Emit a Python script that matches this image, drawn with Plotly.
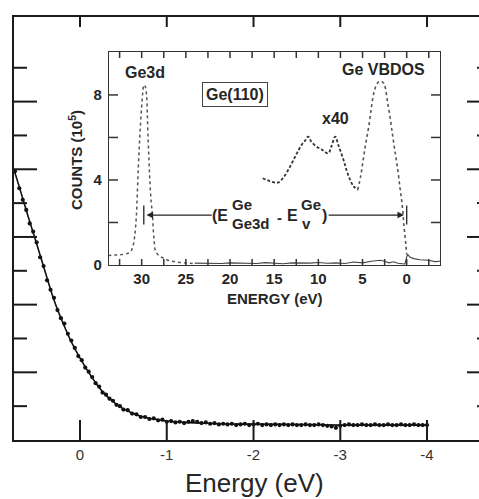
import plotly.graph_objects as go

# ---------------- data: main plot ----------------
main_fit_E = [0.76, 0.70, 0.60, 0.50, 0.40, 0.30, 0.20, 0.10, 0.00, -0.10, -0.20, -0.30, -0.40,
              -0.50, -0.60, -0.70, -0.80, -0.90, -1.00, -1.20, -1.40, -1.60, -1.80, -2.00,
              -2.50, -3.00, -3.50, -4.00]
main_fit_y = [3.99, 3.74, 3.31, 2.90, 2.48, 2.07, 1.74, 1.45, 1.21, 1.00, 0.81, 0.66, 0.55,
              0.46, 0.40, 0.35, 0.32, 0.30, 0.28, 0.26, 0.25, 0.24, 0.235, 0.235,
              0.23, 0.22, 0.22, 0.22]

main_pts_E = [0.75, 0.70, 0.66, 0.62, 0.58, 0.54, 0.50, 0.46, 0.42, 0.38, 0.34, 0.30, 0.26, 0.22,
              0.18, 0.14, 0.10, 0.06, 0.02, -0.02, -0.06, -0.10, -0.14, -0.18, -0.22, -0.26,
              -0.30, -0.34, -0.38, -0.42, -0.46, -0.50, -0.55, -0.60, -0.65, -0.70, -0.75,
              -0.80, -0.85, -0.90, -0.95, -1.00, -1.05, -1.10, -1.15, -1.20, -1.25, -1.30,
              -1.35, -1.40, -1.45, -1.50, -1.55, -1.60, -1.65, -1.70, -1.75, -1.80, -1.85,
              -1.90, -1.95, -2.00, -2.05, -2.10, -2.15, -2.20, -2.25, -2.30, -2.35, -2.40,
              -2.45, -2.50, -2.55, -2.60, -2.65, -2.70, -2.75, -2.80, -2.85, -2.90, -2.95,
              -3.00, -3.05, -3.10, -3.15, -3.20, -3.25, -3.30, -3.35, -3.40, -3.45, -3.50,
              -3.55, -3.60, -3.65, -3.70, -3.75, -3.80, -3.85, -3.90, -3.95, -4.00]
main_pts_y = [3.97, 3.72, 3.55, 3.40, 3.20, 3.08, 2.92, 2.70, 2.57, 2.36, 2.22, 2.10, 1.92, 1.80,
              1.72, 1.57, 1.47, 1.36, 1.24, 1.18, 1.07, 1.01, 0.93, 0.84, 0.79, 0.70,
              0.67, 0.61, 0.58, 0.52, 0.50, 0.45, 0.44, 0.39, 0.38, 0.34, 0.34,
              0.31, 0.32, 0.29, 0.30, 0.27, 0.28, 0.26, 0.27, 0.25, 0.27, 0.28,
              0.27, 0.25, 0.26, 0.24, 0.25, 0.23, 0.24, 0.23, 0.24, 0.22, 0.23,
              0.24, 0.22, 0.23, 0.24, 0.22, 0.23, 0.22, 0.23, 0.22, 0.23, 0.22,
              0.23, 0.22, 0.22, 0.23, 0.22, 0.22, 0.23, 0.22, 0.21, 0.20, 0.18,
              0.21, 0.22, 0.23, 0.22, 0.22, 0.23, 0.22, 0.22, 0.23, 0.22, 0.22,
              0.23, 0.22, 0.22, 0.23, 0.22, 0.22, 0.23, 0.22, 0.22, 0.22]

main_xticks = [0, -1, -2, -3, -4]
main_xlabels = ["0", "-1", "-2", "-3", "-4"]
main_y_major = [1, 2, 3, 4, 5]
main_y_minor = [0.5, 1.5, 2.5, 3.5, 4.5, 5.5]

# ---------------- data: inset ----------------
ge3d_E = [33.8, 32.9, 32.1, 31.5, 31.2, 31.0, 30.8, 30.6, 30.48, 30.38, 30.28, 30.18, 30.03, 29.88,
          29.75, 29.6, 29.45, 29.36, 29.28, 29.18, 29.08, 28.93, 28.78, 28.68, 28.58, 28.48,
          28.28, 27.98, 27.58, 27.18, 26.68, 25.9, 24.9, 23.9]
ge3d_y = [0.45, 0.47, 0.5, 0.56, 0.66, 0.86, 1.33, 2.3, 3.5, 4.6, 5.5, 6.3, 7.3, 8.1,
          8.47, 8.4, 8.0, 7.1, 6.0, 5.0, 4.0, 3.0, 2.35, 1.6, 1.1, 0.72,
          0.55, 0.42, 0.33, 0.25, 0.19, 0.13, 0.09, 0.07]

base_E = [24.0, 23.0, 22.0, 21.0, 20.0, 19.0, 18.0, 17.0, 16.0, 15.0, 14.0, 13.0, 12.0, 11.0,
          10.0, 9.0, 8.0, 7.0, 6.0, 5.0, 4.0, 3.0, 2.5, 2.0, 1.5, 1.0, 0.5, 0.2, 0.05,
          -0.1, -0.4, -0.8, -1.5, -2.5, -3.2, -3.8]
base_y = [0.09, 0.08, 0.1, 0.07, 0.1, 0.08, 0.09, 0.07, 0.11, 0.08, 0.06, 0.1, 0.08, 0.09,
          0.12, 0.08, 0.1, 0.07, 0.14, 0.1, 0.18, 0.22, 0.18, 0.1, 0.15, 0.08, 0.06, 0.05, 0.3,
          0.5, 0.36, 0.3, 0.25, 0.22, 0.16, 0.18]

vb40_E = [16.3, 15.5, 14.6, 13.9, 13.2, 12.5, 11.9, 11.5, 11.15, 10.8, 10.2, 9.5, 8.9, 8.5,
          8.1, 7.7, 7.15, 6.8, 6.4, 6.0, 5.55, 5.2, 4.87, 4.6, 4.3, 4.0, 3.73, 3.45, 3.16,
          2.9, 2.6, 2.4, 2.2, 1.9, 1.63, 1.35, 1.06, 0.75, 0.49, 0.3, 0.11, 0.0]
vb40_y = [4.08, 3.95, 3.87, 4.15, 4.63, 5.2, 5.65, 5.85, 6.04, 5.8, 5.57, 5.4, 5.25, 5.6,
          6.04, 5.6, 4.94, 4.45, 4.0, 3.7, 3.53, 4.2, 5.1, 5.8, 6.5, 7.4, 8.08, 8.45, 8.63,
          8.65, 8.55, 8.3, 7.76, 7.0, 6.2, 5.4, 4.63, 3.6, 2.75, 1.8, 1.02, 0.5]

inset_xticks = [32.5, 30, 27.5, 25, 22.5, 20, 17.5, 15, 12.5, 10, 7.5, 5, 2.5, 0, -2.5]
inset_xlabels = ["", "30", "", "25", "", "20", "", "15", "", "10", "", "5", "", "0", ""]
inset_yticks = [0, 2, 4, 6, 8]
inset_ylabels = ["0", "", "4", "", "8"]

gap_E = [29.76, 0.0]      # E(Ge3d) and E(v) markers of the arrow
gap_level = 2.35

# ---------------- layout geometry ----------------
W, H = 479, 499
L, R, T, B = 14, 0, 17, 59
PW, PH = W - L - R, H - T - B

IX0, IX1, IY0, IY1 = 109, 440, 265, 52      # inset box in pixels
IW, IH = IX1 - IX0, IY0 - IY1

main_xrange = [0.761, -4.599]
main_yrange = [0, 6.25]
inset_xrange = [33.7, -3.77]
inset_yrange = [0, 10.02]


def px(x):
    return (x - L) / PW


def py(y):
    return (H - B - y) / PH


AX = "#1a1a1a"
TXT = "#262626"
FONT = "Liberation Sans, Arial, sans-serif"

# units per pixel on each axis (for tick-mark lengths)
mx_u = abs(main_xrange[1] - main_xrange[0]) / PW
my_u = (main_yrange[1] - main_yrange[0]) / PH
ix_u = abs(inset_xrange[1] - inset_xrange[0]) / IW
iy_u = (inset_yrange[1] - inset_yrange[0]) / IH


def vticks(vals, y0, y1):
    xs, ys = [], []
    for v in vals:
        xs += [v, v, None]
        ys += [y0, y1, None]
    return xs, ys


def hticks(vals, x0, x1):
    xs, ys = [], []
    for v in vals:
        xs += [x0, x1, None]
        ys += [v, v, None]
    return xs, ys


fig = go.Figure()

# main curve
fig.add_trace(go.Scatter(x=main_fit_E, y=main_fit_y, mode="lines",
                         line=dict(color="#111111", width=1.6, shape="spline"),
                         xaxis="x", yaxis="y", hoverinfo="skip"))
fig.add_trace(go.Scatter(x=main_pts_E, y=main_pts_y, mode="markers",
                         marker=dict(color="#111111", size=4.2),
                         xaxis="x", yaxis="y", hoverinfo="skip"))

# main tick marks (drawn as line traces)
tick_line = dict(color=AX, width=2)
tick_sets = [
    vticks(main_xticks, main_yrange[0], main_yrange[0] + 20 * my_u),          # bottom
    vticks(main_xticks, main_yrange[1] - 10 * my_u, main_yrange[1]),         # top
    hticks(main_y_major, main_xrange[0], main_xrange[0] - 23 * mx_u),        # left major
    hticks(main_y_minor, main_xrange[0], main_xrange[0] - 13 * mx_u),        # left minor
    hticks(main_y_major, main_xrange[1] + 12 * mx_u, main_xrange[1]),        # right major
    hticks(main_y_minor, main_xrange[1] + 2 * mx_u, main_xrange[1]),         # right minor
]
for xs, ys in tick_sets:
    fig.add_trace(go.Scatter(x=xs, y=ys, mode="lines", line=tick_line,
                             xaxis="x", yaxis="y", hoverinfo="skip", connectgaps=False))

# inset curves
fig.add_trace(go.Scatter(x=ge3d_E, y=ge3d_y, mode="lines",
                         line=dict(color="#555555", width=1.5, dash="dot", shape="spline"),
                         xaxis="x3", yaxis="y3", hoverinfo="skip"))
fig.add_trace(go.Scatter(x=base_E, y=base_y, mode="lines",
                         line=dict(color="#444444", width=1.1),
                         xaxis="x3", yaxis="y3", hoverinfo="skip"))
fig.add_trace(go.Scatter(x=vb40_E[:21], y=vb40_y[:21], mode="lines",
                         line=dict(color="#333333", width=1.8, dash="3px,2px", shape="spline"),
                         xaxis="x3", yaxis="y3", hoverinfo="skip"))
fig.add_trace(go.Scatter(x=vb40_E[20:], y=vb40_y[20:], mode="lines",
                         line=dict(color="#555555", width=1.6, dash="dot", shape="spline"),
                         xaxis="x3", yaxis="y3", hoverinfo="skip"))

# inset tick marks
itick = dict(color="#333333", width=1.5)
inset_sets = [
    vticks(inset_xticks, inset_yrange[0], inset_yrange[0] + 6 * iy_u),
    vticks(inset_xticks, inset_yrange[1] - 6 * iy_u, inset_yrange[1]),
    hticks(inset_yticks[1:], inset_xrange[0], inset_xrange[0] - 9 * ix_u),
    hticks(inset_yticks[1:], inset_xrange[1] + 9 * ix_u, inset_xrange[1]),
]
for xs, ys in inset_sets:
    fig.add_trace(go.Scatter(x=xs, y=ys, mode="lines", line=itick,
                             xaxis="x3", yaxis="y3", hoverinfo="skip", connectgaps=False))

# gap bars
for e in gap_E:
    fig.add_trace(go.Scatter(x=[e, e], y=[gap_level - 0.45, gap_level + 0.45], mode="lines",
                             line=dict(color="#222222", width=1.3),
                             xaxis="x3", yaxis="y3", hoverinfo="skip"))

common = dict(showgrid=False, zeroline=False, ticks="")
fig.update_layout(
    width=W, height=H,
    margin=dict(l=L, r=R, t=T, b=B, pad=0),
    paper_bgcolor="white", plot_bgcolor="white",
    showlegend=False,
    font=dict(family=FONT, color=TXT),
    xaxis=dict(range=main_xrange, domain=[0, 1], anchor="y",
               tickmode="array", tickvals=main_xticks, ticktext=main_xlabels,
               showline=True, linecolor=AX, linewidth=1.8, mirror=True,
               tickfont=dict(size=15, color="#333333"), **common),
    yaxis=dict(range=main_yrange, domain=[0, 1], anchor="x",
               tickmode="array", tickvals=main_y_major, showticklabels=False,
               showline=True, linecolor=AX, linewidth=1.8, **common),
    xaxis3=dict(range=inset_xrange, domain=[px(IX0), px(IX1)], anchor="y3",
                tickmode="array", tickvals=inset_xticks, ticktext=inset_xlabels,
                showline=True, linecolor="#333333", linewidth=1.4, mirror=True,
                tickfont=dict(size=15, color=TXT, weight="bold"), **common),
    yaxis3=dict(range=inset_yrange, domain=[py(IY0), py(IY1)], anchor="x3",
                tickmode="array", tickvals=inset_yticks, ticktext=inset_ylabels,
                showline=True, linecolor="#333333", linewidth=1.4, mirror=True,
                tickfont=dict(size=15, color=TXT, weight="bold"), ticklabelstandoff=3,
                **common),
)

ann = []
# arrows of the gap
ann.append(dict(x=gap_E[0] - 0.3, y=gap_level, xref="x3", yref="y3",
                ax=21.9, ay=gap_level, axref="x3", ayref="y3", text="",
                showarrow=True, arrowhead=2, arrowsize=1.1, arrowwidth=1.2, arrowcolor="#222222"))
ann.append(dict(x=gap_E[1] + 0.3, y=gap_level, xref="x3", yref="y3",
                ax=9.0, ay=gap_level, axref="x3", ayref="y3", text="",
                showarrow=True, arrowhead=2, arrowsize=1.1, arrowwidth=1.2, arrowcolor="#222222"))


def txt(s, x, y, size=16, xa="center", ya="middle", bold=True, **kw):
    f = dict(size=size, color=TXT, family=FONT)
    if bold:
        f["weight"] = "bold"
    d = dict(text=s, x=px(x), y=py(y), xref="paper", yref="paper", showarrow=False,
             xanchor=xa, yanchor=ya, font=f)
    d.update(kw)
    ann.append(d)


# gap label
txt("(E", 230, 215, 16, xa="right")
txt("Ge", 230, 204, 15, xa="left")
txt("Ge3d", 230, 223, 15, xa="left")
txt("-", 279, 217, 15)
txt("E", 300, 215, 16, xa="right")
txt("Ge", 299, 204, 15, xa="left")
txt("v", 300, 223, 15, xa="left")
txt(")", 320, 215, 16, xa="left")

# inset labels
txt("Ge3d", 145, 73, 16)
txt("Ge VBDOS", 383, 70, 16)
txt("x40", 335, 118, 16)
txt("Ge(110)", 235, 94, 16, bordercolor="#444444", borderwidth=1, borderpad=3)
txt("ENERGY (eV)", 275, 298, 15)
txt("COUNTS (10<sup>5</sup>)", 75, 160, 15, textangle=-90)

# main axis title
txt("Energy (eV)", 254, 483, 26, bold=False)

fig.update_layout(annotations=ann)

fig.write_html("out.html")
